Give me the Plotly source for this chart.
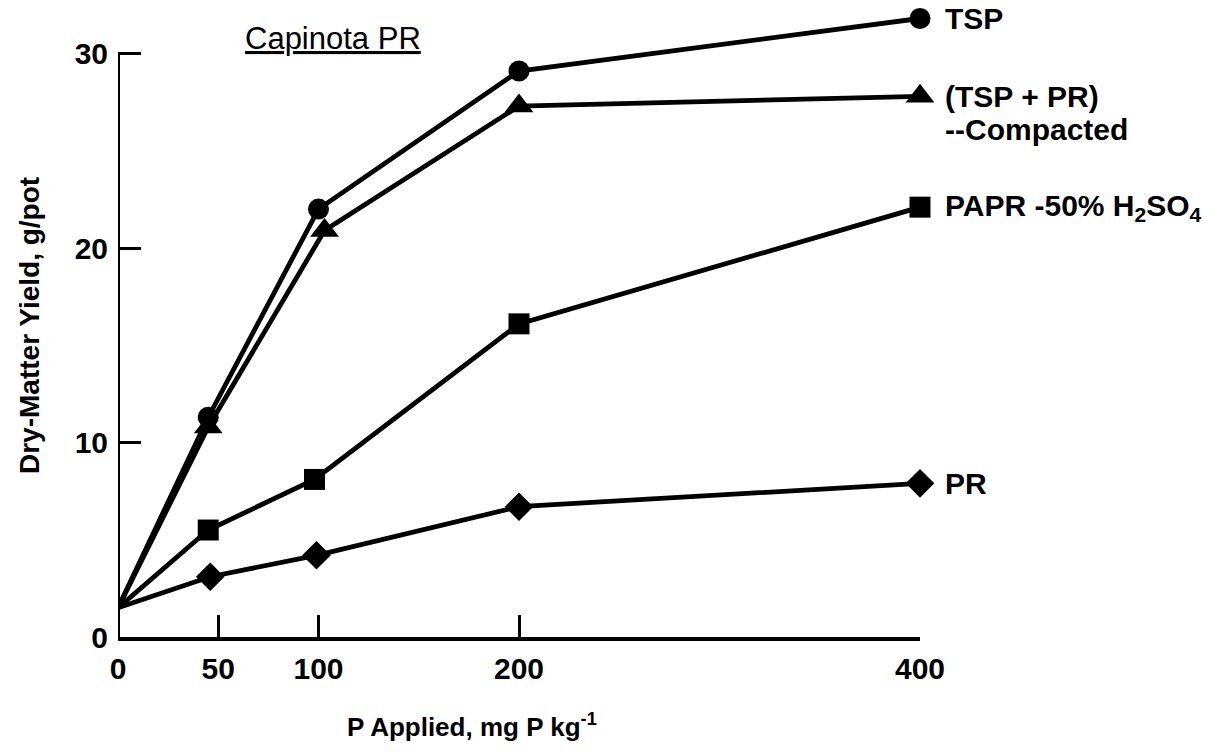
import plotly.graph_objects as go

# P applied (mg P per kg) and dry-matter yield (g/pot) for each source
x_tsp = [0, 45, 100, 200, 400]
y_tsp = [1.5, 11.3, 22.0, 29.1, 31.8]

x_comp = [0, 45, 103, 200, 400]
y_comp = [1.5, 10.8, 20.9, 27.3, 27.8]

x_papr = [0, 45, 98, 200, 400]
y_papr = [1.5, 5.5, 8.1, 16.1, 22.1]

x_pr = [0, 46, 99, 200, 400]
y_pr = [1.5, 3.1, 4.2, 6.7, 7.9]

x_ticks = [0, 50, 100, 200, 400]
y_ticks = [0, 10, 20, 30]
y_axis_top = 30

FONT = "Liberation Sans"
INK = "#000000"

series = [
    (x_tsp, y_tsp, "circle", 21, ["TSP"]),
    (x_comp, y_comp, "triangle-up", 25, ["(TSP + PR)", "--Compacted"]),
    (x_papr, y_papr, "square", 21, ["PAPR -50% H<sub>2</sub>SO<sub>4</sub>"]),
    (x_pr, y_pr, "diamond", 22, ["PR"]),
]

fig = go.Figure()
for xs, ys, sym, size, names in series:
    fig.add_trace(go.Scatter(
        x=xs, y=ys, mode="lines+markers", name=names[0],
        line=dict(color=INK, width=4.8),
        marker=dict(symbol=sym, size=[0] + [size] * (len(xs) - 1),
                    color=INK, opacity=1, line=dict(width=0)),
        opacity=1, cliponaxis=False, showlegend=False,
    ))

# series names placed beside the last point of each line
for xs, ys, sym, size, names in series:
    for k, name in enumerate(names):
        fig.add_annotation(
            x=xs[-1], y=ys[-1], xref="x", yref="y", text=name,
            showarrow=False, xanchor="left", yanchor="middle",
            xshift=23, yshift=-33 * k, align="left",
            font=dict(family=FONT, size=30, color=INK, weight="bold"),
        )

# y axis line stops at the top tick
fig.add_shape(type="line", xref="x", yref="y", x0=0, x1=0, y0=0, y1=y_axis_top,
              line=dict(color=INK, width=4))

fig.add_annotation(
    x=(333 - 118) / 802, y=(752 - 115 - 38) / 635, xref="paper", yref="paper",
    text="<u>Capinota PR</u>",
    showarrow=False, xanchor="center", yanchor="middle",
    font=dict(family=FONT, size=31, color=INK),
)

fig.add_annotation(
    x=(345 - 118) / 802, y=-(725 - 637) / 635, xref="paper", yref="paper",
    text="P Applied, mg P kg<sup>-1</sup>",
    showarrow=False, xanchor="left", yanchor="middle",
    font=dict(family=FONT, size=26, color=INK, weight="bold"),
)
fig.add_annotation(
    x=-(118 - 30) / 802, y=(637 - 326) / 635, xref="paper", yref="paper",
    text="Dry-Matter Yield, g/pot", textangle=-90,
    showarrow=False, xanchor="center", yanchor="middle",
    font=dict(family=FONT, size=28, color=INK, weight="bold"),
)

fig.update_xaxes(
    range=[0, 400], tickvals=x_ticks, ticktext=[str(v) for v in x_ticks],
    showgrid=False, zeroline=False, showline=True, linecolor=INK, linewidth=4,
    ticks="inside", ticklen=22, tickwidth=3, tickcolor=INK, ticklabelstandoff=2,
    tickfont=dict(family=FONT, size=30, color=INK, weight="bold"),
)
fig.update_yaxes(
    range=[0, 635 / 19.45], tickvals=y_ticks, ticktext=[str(v) for v in y_ticks],
    showgrid=False, zeroline=False, showline=False,
    ticks="inside", ticklen=23, tickwidth=3, tickcolor=INK, ticklabelstandoff=9,
    tickfont=dict(family=FONT, size=30, color=INK, weight="bold"),
)

fig.update_layout(
    width=1227, height=752,
    margin=dict(l=118, r=307, t=2, b=115),
    paper_bgcolor="white", plot_bgcolor="white",
)

fig.write_html("out.html")
